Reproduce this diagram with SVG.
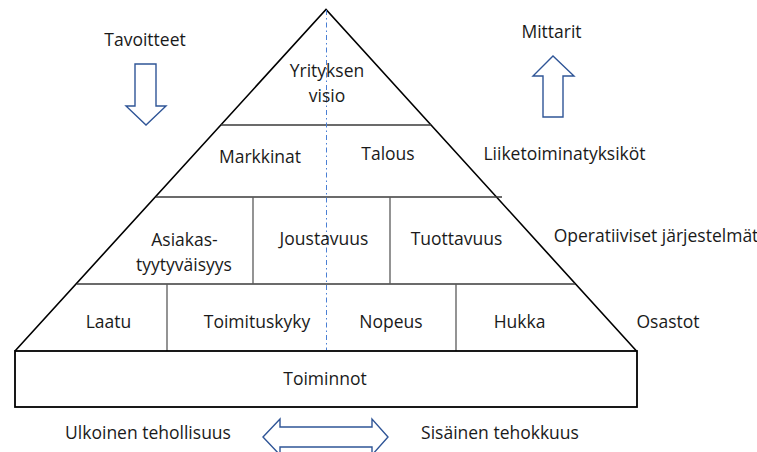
<svg xmlns="http://www.w3.org/2000/svg" width="757" height="452" viewBox="0 0 757 452">
<style>
text{font-family:"Open Sans","Liberation Sans",sans-serif;font-size:17.5px;fill:#1a1a1a;text-anchor:middle}
.side{fill:none;stroke:#000;stroke-width:1.6}
.hl{stroke:#3a3a3a;stroke-width:1.3}
.vl{stroke:#5a5a5a;stroke-width:1.3}
.arrow{fill:#fff;stroke:#2f5597;stroke-width:1.4;stroke-linejoin:miter}
.axis{stroke:#4a7fd4;stroke-width:1;stroke-dasharray:5 3 1.5 3}
</style>
<rect width="757" height="452" fill="#fff"/>
<g id="pyramid">
<path class="side" d="M15,351 L326,9.5 L636.5,351"/>
<line class="hl" x1="221" y1="125" x2="431" y2="125"/>
<line class="hl" x1="156" y1="197" x2="502" y2="197"/>
<line class="hl" x1="77" y1="284" x2="575" y2="284"/>
<line class="vl" x1="253" y1="197" x2="253" y2="284"/>
<line class="vl" x1="390" y1="197" x2="390" y2="284"/>
<line class="vl" x1="167" y1="284" x2="167" y2="351"/>
<line class="vl" x1="456" y1="284" x2="456" y2="351"/>
</g>
<g id="connectors">
<line class="axis" x1="326.5" y1="10" x2="326.5" y2="350"/>
</g>
<g id="visio"><text x="327" y="77">Yrityksen</text><text x="327" y="102">visio</text></g>
<g id="markkinat"><text x="260" y="163">Markkinat</text></g>
<g id="talous"><text x="388" y="160">Talous</text></g>
<g id="asiakastyytyvaisyys"><text x="184.5" y="246">Asiakas-</text><text x="184" y="271">tyytyväisyys</text></g>
<g id="joustavuus"><text x="324" y="245">Joustavuus</text></g>
<g id="tuottavuus"><text x="456.5" y="245">Tuottavuus</text></g>
<g id="laatu"><text x="108.5" y="328">Laatu</text></g>
<g id="toimituskyky"><text x="257" y="328">Toimituskyky</text></g>
<g id="nopeus"><text x="391" y="328">Nopeus</text></g>
<g id="hukka"><text x="519.5" y="328">Hukka</text></g>
<g id="toiminnot"><rect x="15" y="351" width="622" height="56" fill="#fff" stroke="#000" stroke-width="1.8"/><text x="325" y="385">Toiminnot</text></g>
<g id="tavoitteet"><text x="145" y="46">Tavoitteet</text><path class="arrow" d="M135,64 H156 V106 H166 L146,125 L126,106 H135 Z"/></g>
<g id="mittarit"><text x="551.5" y="38">Mittarit</text><path class="arrow" d="M543,117 H563 V76 H574 L553,56 L533,76 H543 Z"/></g>
<g id="liiketoimintayksikot"><text x="564.5" y="160">Liiketoiminatyksiköt</text></g>
<g id="operatiiviset"><text x="656" y="242">Operatiiviset järjestelmät</text></g>
<g id="osastot"><text x="668" y="328">Osastot</text></g>
<g id="ulkoinen"><text x="148" y="439">Ulkoinen tehollisuus</text></g>
<g id="sisainen"><text x="500" y="439">Sisäinen tehokkuus</text></g>
<g id="double-arrow"><path class="arrow" d="M263,437 L280,419 V427 H372 V419 L388,437 L372,455 V447 H280 V455 Z"/></g>
</svg>
